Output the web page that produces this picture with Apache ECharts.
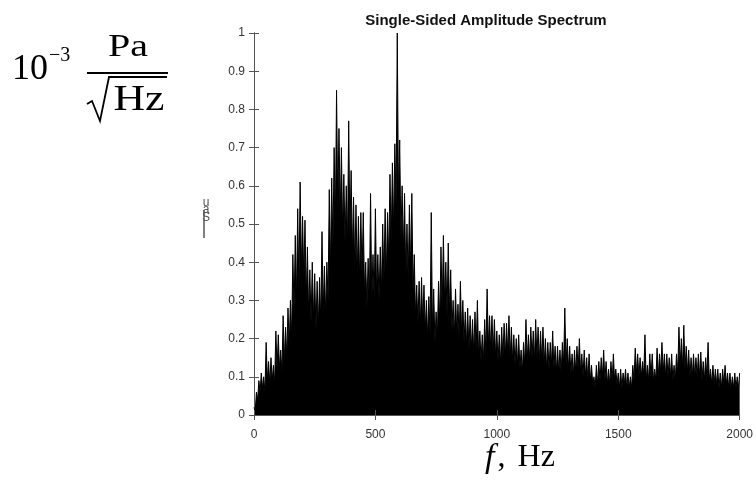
<!DOCTYPE html>
<html>
<head>
<meta charset="utf-8">
<script src="https://cdn.jsdelivr.net/npm/echarts@6/dist/echarts.min.js"></script>
<style>
html,body{margin:0;padding:0;background:#fff;}
#chart{width:756px;height:489px;}
</style>
</head>
<body>
<div id="chart"></div>
<script>
// Frequency step of the envelope readings (Hz)
var freqStep = 10;
// Upper envelope (peak amplitude, 10^-3 Pa/sqrt(Hz)) read every 10 Hz from 0 to 2000 Hz
var peaks = [
  0.02,0.06,0.09,0.11,0.10,0.19,0.14,0.15,0.13,0.22,
  0.21,0.17,0.26,0.23,0.28,0.30,0.42,0.47,0.54,0.61,
  0.52,0.51,0.44,0.38,0.40,0.37,0.35,0.36,0.48,0.39,
  0.40,0.59,0.62,0.70,0.85,0.75,0.70,0.63,0.60,0.77,
  0.64,0.57,0.55,0.52,0.53,0.53,0.40,0.41,0.58,0.42,
  0.54,0.42,0.44,0.50,0.54,0.53,0.63,0.66,0.71,1.00,
  0.72,0.60,0.58,0.50,0.55,0.58,0.42,0.34,0.35,0.36,
  0.34,0.30,0.31,0.53,0.33,0.27,0.35,0.44,0.47,0.40,
  0.45,0.38,0.30,0.33,0.29,0.35,0.30,0.27,0.28,0.26,
  0.25,0.27,0.30,0.22,0.21,0.25,0.33,0.26,0.26,0.25,
  0.22,0.21,0.23,0.24,0.24,0.26,0.23,0.21,0.20,0.21,
  0.17,0.19,0.25,0.21,0.23,0.22,0.25,0.23,0.22,0.23,
  0.20,0.19,0.19,0.22,0.18,0.18,0.17,0.19,0.28,0.20,
  0.18,0.16,0.17,0.18,0.20,0.16,0.17,0.15,0.16,0.13,
  0.10,0.13,0.14,0.15,0.17,0.14,0.12,0.14,0.16,0.12,
  0.11,0.12,0.11,0.12,0.11,0.10,0.13,0.175,0.16,0.15,
  0.14,0.21,0.13,0.16,0.16,0.12,0.175,0.16,0.19,0.16,
  0.16,0.15,0.16,0.13,0.16,0.23,0.20,0.235,0.18,0.17,
  0.15,0.16,0.15,0.16,0.165,0.14,0.15,0.19,0.12,0.13,
  0.12,0.12,0.11,0.12,0.13,0.11,0.11,0.10,0.11,0.10,
  0.11
];
// Level of the solid body between peaks (read at f + 5 Hz)
var valleys = [
  0.01,0.04,0.06,0.07,0.06,0.09,0.08,0.09,0.08,0.12,
  0.12,0.11,0.14,0.15,0.18,0.20,0.27,0.30,0.33,0.38,
  0.36,0.30,0.26,0.24,0.25,0.22,0.23,0.24,0.27,0.26,
  0.30,0.38,0.44,0.50,0.55,0.52,0.48,0.45,0.44,0.47,
  0.42,0.38,0.36,0.35,0.37,0.32,0.28,0.29,0.30,0.30,
  0.31,0.30,0.32,0.35,0.36,0.40,0.45,0.48,0.55,0.56,
  0.46,0.42,0.36,0.35,0.38,0.32,0.26,0.24,0.23,0.24,
  0.22,0.20,0.21,0.22,0.19,0.20,0.24,0.28,0.29,0.26,
  0.27,0.22,0.20,0.21,0.20,0.21,0.19,0.18,0.17,0.17,
  0.16,0.17,0.15,0.14,0.14,0.16,0.18,0.17,0.16,0.15,
  0.14,0.13,0.15,0.15,0.16,0.15,0.14,0.13,0.13,0.12,
  0.11,0.13,0.14,0.14,0.15,0.14,0.15,0.14,0.14,0.13,
  0.12,0.12,0.13,0.12,0.11,0.11,0.11,0.13,0.13,0.12,
  0.11,0.10,0.11,0.12,0.11,0.10,0.10,0.09,0.09,0.08,
  0.07,0.08,0.09,0.10,0.09,0.08,0.08,0.09,0.09,0.08,
  0.07,0.07,0.08,0.07,0.07,0.07,0.09,0.11,0.10,0.10,
  0.10,0.09,0.09,0.10,0.09,0.09,0.10,0.11,0.11,0.10,
  0.10,0.10,0.09,0.09,0.11,0.13,0.12,0.12,0.11,0.10,
  0.10,0.10,0.10,0.10,0.09,0.09,0.10,0.09,0.08,0.08,
  0.08,0.07,0.07,0.08,0.08,0.07,0.07,0.07,0.07,0.07
];
var xTicks = [0, 500, 1000, 1500, 2000];
var yTicks = [0, 0.1, 0.2, 0.3, 0.4, 0.5, 0.6, 0.7, 0.8, 0.9, 1];
var titleText = 'Single-Sided Amplitude Spectrum';

var seriesData = [];
for (var i = 0; i < peaks.length; i++) {
  var f = i * freqStep;
  seriesData.push([f, peaks[i]]);
  if (i < valleys.length) seriesData.push([f + freqStep / 2, valleys[i]]);
}

var axisColor = '#555';
var labelStyle = {color: '#333', fontSize: 12, fontFamily: 'Liberation Sans, Arial, sans-serif'};
var serif = 'Liberation Serif, Times New Roman, serif';

var chart = echarts.init(document.getElementById('chart'), null, {renderer: 'canvas'});
chart.setOption({
  animation: false,
  backgroundColor: '#fff',
  grid: {left: 254, right: 15, top: 33, bottom: 74, containLabel: false},
  xAxis: [{
    type: 'value', min: xTicks[0], max: xTicks[xTicks.length - 1], interval: 500,
    axisLine: {lineStyle: {color: axisColor}},
    axisTick: {inside: true, length: 5, lineStyle: {color: axisColor}},
    axisLabel: Object.assign({margin: 14, formatter: function (v) { return String(v); }}, labelStyle),
    splitLine: {show: false}, z: 5
  }, {
    type: 'value', position: 'top', min: xTicks[0], max: xTicks[xTicks.length - 1], interval: 500,
    axisLine: {show: true, lineStyle: {color: axisColor}},
    axisTick: {inside: true, length: 5, lineStyle: {color: axisColor}},
    axisLabel: {show: false}, splitLine: {show: false}
  }],
  yAxis: [{
    type: 'value', min: 0, max: 1, interval: 0.1,
    axisLine: {show: true, lineStyle: {color: axisColor}},
    axisTick: {inside: true, length: 5, lineStyle: {color: axisColor}},
    axisLabel: Object.assign({margin: 9, formatter: function (v) { return String(Math.round(v * 10) / 10); }}, labelStyle),
    splitLine: {show: false}
  }, {
    type: 'value', position: 'right', min: 0, max: 1, interval: 0.1,
    axisLine: {show: true, lineStyle: {color: axisColor}},
    axisTick: {inside: true, length: 5, lineStyle: {color: axisColor}},
    axisLabel: {show: false}, splitLine: {show: false}
  }],
  series: [{
    type: 'line', xAxisIndex: 0, yAxisIndex: 0,
    data: seriesData, showSymbol: false, symbol: 'none', sampling: null,
    lineStyle: {color: '#000', width: 1},
    areaStyle: {color: '#000', opacity: 1, origin: 'start'},
    silent: true, z: 1
  }],
  graphic: [
    {type: 'text', x: 486, y: 21, scaleX: 1.07, style: {text: titleText, font: 'bold 14px Liberation Sans, Arial, sans-serif', fill: '#111', align: 'center', verticalAlign: 'middle'}},
    // y-axis unit label, left side
    {type: 'text', x: 12, y: 70, style: {text: '10', font: '36px ' + serif, fill: '#000', align: 'left', verticalAlign: 'middle'}},
    {type: 'text', x: 49, y: 56, style: {text: '\u22123', font: '20px ' + serif, fill: '#000', align: 'left', verticalAlign: 'middle'}},
    {type: 'text', x: 128, y: 48, scaleX: 1.25, style: {text: 'Pa', font: '32px ' + serif, fill: '#000', align: 'center', verticalAlign: 'middle'}},
    {type: 'line', shape: {x1: 87, y1: 73, x2: 168, y2: 73}, style: {stroke: '#000', lineWidth: 2}},
    {type: 'polyline', shape: {points: [[87, 104], [92, 101], [100, 121], [109, 77], [167, 77]]}, style: {stroke: '#000', lineWidth: 1.8, fill: null}},
    {type: 'text', x: 139, y: 101, scaleX: 1.25, style: {text: 'Hz', font: '35px ' + serif, fill: '#000', align: 'center', verticalAlign: 'middle'}},
    // small rotated-axis remnant label
    {type: 'text', x: 206, y: 203, style: {text: 'u', font: '12px Liberation Sans, Arial, sans-serif', fill: '#555', align: 'center', verticalAlign: 'middle'}},
    {type: 'text', x: 206, y: 210, style: {text: 'a', font: '12px Liberation Sans, Arial, sans-serif', fill: '#555', align: 'center', verticalAlign: 'middle'}},
    {type: 'text', x: 206, y: 218, style: {text: 'S', font: '12px Liberation Sans, Arial, sans-serif', fill: '#555', align: 'center', verticalAlign: 'middle'}},
    {type: 'line', shape: {x1: 204, y1: 210, x2: 204, y2: 238}, style: {stroke: '#555', lineWidth: 1.5}},
    // x-axis name
    {type: 'text', x: 520, y: 458, style: {
      text: '{i|f}{c|,}{h|Hz}', fill: '#000', align: 'center', verticalAlign: 'middle',
      rich: {
        i: {fontStyle: 'italic', fontSize: 34, fontFamily: serif, fill: '#000'},
        c: {fontSize: 32, fontFamily: serif, fill: '#000', padding: [0, 12, 0, 3]},
        h: {fontSize: 32, fontFamily: serif, fill: '#000'}
      }
    }}
  ]
});
</script>
</body>
</html>
